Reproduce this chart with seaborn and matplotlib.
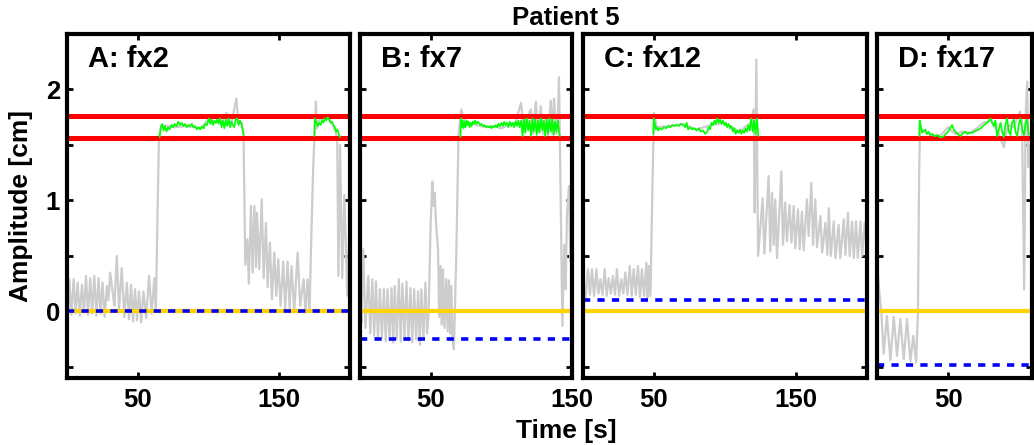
import numpy as np
import pandas as pd
import matplotlib
matplotlib.use("Agg")
import matplotlib.pyplot as plt
import seaborn as sns

# ---- data -------------------------------------------------------------
panel_titles = ["A: fx2", "B: fx7", "C: fx12", "D: fx17"]
time_span = [200, 150, 200, 109]          # seconds shown per fraction
gate_upper = 1.757                        # gating window (cm)
gate_lower = 1.56
reference_level = [0.0, 0.0, 0.0, 0.0]    # planning reference (yellow)
fraction_baseline = [0.0, -0.25, 0.10, -0.48]  # per-fraction baseline (blue)

# breathing trace, fraction 2
a_time = [0.0, 0.8, 1.6, 3.1, 4.7, 6.1, 7.5, 9.0, 10.6, 12.0, 13.4, 14.9, 16.4, 17.8,
          19.3, 20.8, 22.3, 23.7, 25.1, 26.6, 28.2, 29.3, 30.5, 32.5, 33.5, 35.2, 36.8,
          38.7, 40.5, 42.3, 43.8, 45.3, 46.7, 48.1, 49.5, 50.9, 52.4, 54.0, 56.0, 58.0,
          59.8, 61.7, 62.8, 64.0, 65.0, 67.0, 75.0, 85.0, 95.0, 100.0, 105.0, 110.0,
          112.7, 116.0, 119.7, 121.0, 123.5, 124.8, 126.0, 127.5, 128.5, 130.0, 131.2,
          132.4, 133.6, 134.3, 135.9, 137.6, 139.0, 140.6, 141.8, 143.4, 144.8, 146.5,
          147.9, 149.3, 150.9, 152.8, 154.2, 155.9, 157.3, 158.7, 160.6, 163.0, 164.8,
          167.2, 168.5, 170.0, 171.4, 172.5, 174.0, 175.9, 176.5, 178.0, 181.0, 184.0,
          187.0, 190.0, 191.0, 191.8, 193.0, 194.5, 196.0, 198.1, 199.3, 200.0]
a_amp = [0.05, -0.02, 0.29, -0.03, 0.29, -0.02, 0.26, -0.04, 0.24, -0.01, 0.32, -0.03,
         0.30, -0.02, 0.32, -0.04, 0.30, -0.02, 0.26, -0.05, 0.23, 0.10, 0.35, 0.15,
         0.05, 0.50, 0.02, 0.39, -0.05, 0.26, -0.07, 0.24, -0.09, 0.20, -0.08, 0.18,
         -0.10, 0.18, -0.06, 0.32, -0.02, 0.30, 0.00, 0.90, 1.58, 1.68, 1.66, 1.67,
         1.65, 1.74, 1.70, 1.72, 1.79, 1.68, 1.92, 1.72, 1.70, 1.55, 0.42, 0.65, 0.25,
         0.95, 0.35, 0.95, 0.40, 0.89, 0.38, 1.01, 0.30, 0.80, 0.22, 0.62, 0.11, 0.53,
         0.14, 0.47, 0.05, 0.45, 0.02, 0.45, 0.03, 0.41, 0.00, 0.53, 0.05, 0.29, -0.01,
         0.29, 0.00, 0.60, 1.30, 1.89, 1.65, 1.72, 1.74, 1.76, 1.70, 1.62, 1.50, 0.32,
         1.50, 0.30, 1.05, 0.14, 0.62, 0.55]

# breathing trace, fraction 7
b_time = [0.0, 1.0, 2.3, 3.8, 5.9, 7.3, 8.7, 10.0, 11.3, 12.7, 14.1, 15.5, 16.9, 18.2,
          19.5, 20.9, 22.3, 23.5, 24.6, 26.0, 27.5, 28.8, 30.0, 31.5, 32.9, 34.3, 35.7,
          37.0, 38.3, 39.7, 41.1, 42.3, 43.4, 44.9, 46.3, 47.5, 48.6, 50.0, 51.2, 52.0,
          52.8, 54.0, 55.2, 56.0, 57.0, 57.8, 58.7, 59.8, 61.0, 62.0, 62.9, 63.8, 64.6,
          65.5, 66.4, 68.1, 69.7, 71.6, 75.0, 80.0, 85.0, 90.0, 95.0, 100.0, 105.0,
          110.0, 113.9, 116.0, 118.0, 120.9, 122.5, 124.4, 126.0, 127.9, 129.5, 131.5,
          133.0, 135.0, 136.2, 137.3, 138.7, 140.1, 140.8, 142.0, 143.2, 144.5, 145.5,
          146.5, 147.9, 148.8, 149.5, 150.0]
b_amp = [0.10, -0.10, 0.56, -0.15, 0.32, -0.20, 0.29, -0.22, 0.27, -0.25, 0.20, -0.24,
         0.20, -0.27, 0.20, -0.26, 0.21, -0.28, 0.23, -0.25, 0.29, -0.27, 0.25, -0.24,
         0.27, -0.26, 0.21, -0.28, 0.20, -0.25, 0.18, -0.30, 0.20, -0.24, 0.26, -0.20,
         0.00, 0.80, 1.17, 0.95, 1.07, 0.75, 0.56, -0.05, 0.41, -0.12, 0.38, -0.15, 0.29,
         -0.18, 0.28, -0.20, 0.23, -0.25, -0.34, 0.50, 1.59, 1.82, 1.68, 1.69, 1.67,
         1.66, 1.67, 1.65, 1.68, 1.70, 1.88, 1.62, 1.74, 1.82, 1.60, 1.89, 1.62, 1.85,
         1.60, 1.75, 1.58, 1.90, 1.60, 1.92, 1.60, 1.80, 2.11, 1.00, -0.13, 0.60, 0.20,
         0.90, 1.13, 0.45, 1.00, 0.85]

# breathing trace, fraction 12
c_time = [0.0, 1.8, 3.5, 4.9, 6.3, 7.8, 9.4, 10.8, 12.2, 13.7, 15.3, 16.7, 18.1, 19.6,
          21.1, 22.5, 23.9, 25.4, 27.0, 28.4, 29.8, 31.3, 32.9, 34.3, 35.7, 37.2, 38.7,
          40.1, 41.5, 43.0, 44.6, 45.4, 46.2, 47.5, 49.0, 50.0, 52.0, 60.0, 70.0, 80.0,
          90.0, 100.0, 110.0, 118.0, 120.2, 120.9, 122.1, 123.3, 126.5, 127.7, 130.7,
          131.9, 133.1, 134.3, 135.4, 136.6, 139.7, 140.8, 142.4, 143.6, 145.5, 146.8,
          148.4, 149.5, 151.4, 152.6, 154.2, 155.4, 157.7, 158.9, 160.8, 162.0, 163.6,
          164.8, 167.2, 168.4, 170.7, 172.1, 173.1, 174.5, 176.6, 177.8, 180.0, 181.2,
          183.6, 184.8, 186.6, 187.8, 189.5, 190.7, 192.3, 193.5, 195.4, 196.6, 198.4,
          200.0]
c_amp = [0.30, 0.12, 0.38, 0.15, 0.38, 0.14, 0.38, 0.16, 0.29, 0.15, 0.38, 0.14, 0.30,
         0.16, 0.32, 0.15, 0.38, 0.14, 0.29, 0.16, 0.35, 0.15, 0.41, 0.14, 0.38, 0.15,
         0.41, 0.13, 0.38, 0.14, 0.44, 0.12, 0.41, 0.14, 1.20, 1.79, 1.66, 1.67, 1.69,
         1.64, 1.68, 1.70, 1.62, 1.70, 1.82, 0.89, 2.27, 0.50, 1.02, 0.52, 1.22, 0.54,
         1.07, 0.60, 1.01, 0.48, 1.26, 0.60, 0.98, 0.63, 0.96, 0.62, 0.95, 0.57, 0.92,
         0.56, 0.90, 0.55, 1.01, 0.68, 1.16, 0.60, 1.01, 0.58, 0.86, 0.53, 0.80, 0.51,
         0.93, 0.50, 0.81, 0.48, 0.78, 0.48, 0.83, 0.51, 0.89, 0.50, 0.81, 0.48, 0.81,
         0.48, 0.81, 0.50, 0.80, 0.55]

# breathing trace, fraction 17
d_time = [0.0, 1.5, 3.0, 4.7, 7.0, 9.4, 11.8, 14.1, 16.4, 18.8, 21.1, 23.5, 25.5, 27.5,
          28.8, 29.6, 30.2, 35.0, 40.0, 45.0, 50.0, 55.0, 60.0, 65.0, 70.0, 75.0, 80.0,
          85.0, 89.2, 92.0, 96.0, 100.5, 102.0, 103.5, 104.5, 105.6, 106.5, 107.5,
          108.9, 109.0]
d_amp = [0.45, 0.20, 0.00, -0.38, -0.04, -0.44, -0.05, -0.40, -0.07, -0.43, -0.07,
         -0.45, -0.22, -0.46, 0.00, 1.20, 1.65, 1.60, 1.58, 1.59, 1.66, 1.60, 1.62, 1.61,
         1.65, 1.70, 1.72, 1.62, 1.48, 1.68, 1.66, 1.80, 1.70, 0.20, 1.75, 2.07, 1.30,
         1.50, 0.71, 0.71]

# trace samples inside the gating window (beam on)
a_gate_time = [[65.5, 66.2, 67.2, 68.3, 69.2, 70.3, 71.5, 72.6, 73.8, 75.0, 76.2, 77.4,
                78.6, 79.8, 81.0, 82.2, 83.4, 84.6, 85.8, 87.0, 88.2, 89.4, 90.6, 91.8,
                93.0, 94.2, 95.4, 96.6, 97.8, 99.0, 100.2, 101.2, 102.2, 103.2, 104.2,
                105.2, 106.2, 107.2, 108.2, 109.2, 110.2, 111.2, 112.2, 113.2, 114.2,
                115.2, 116.2, 117.2, 118.2, 119.2, 120.2, 121.2, 122.2, 123.2, 124.2,
                125.0],
               [174.8, 175.1, 176.2, 177.2, 178.2, 179.2, 180.2, 181.2, 182.2, 183.2,
                184.2, 185.2, 186.2, 187.2, 188.2, 189.2, 190.2, 191.2, 192.2, 193.0]]
a_gate_amp = [[1.57, 1.66, 1.69, 1.63, 1.67, 1.62, 1.66, 1.64, 1.68, 1.66, 1.69, 1.67,
               1.71, 1.68, 1.70, 1.67, 1.69, 1.66, 1.68, 1.67, 1.69, 1.66, 1.67, 1.64,
               1.66, 1.64, 1.67, 1.65, 1.69, 1.68, 1.74, 1.69, 1.73, 1.68, 1.72, 1.70,
               1.73, 1.69, 1.74, 1.66, 1.72, 1.65, 1.73, 1.67, 1.74, 1.66, 1.71, 1.68,
               1.66, 1.73, 1.74, 1.68, 1.72, 1.69, 1.64, 1.59],
              [1.58, 1.74, 1.71, 1.67, 1.70, 1.68, 1.72, 1.70, 1.74, 1.72, 1.75, 1.73,
               1.70, 1.71, 1.68, 1.66, 1.62, 1.64, 1.59, 1.57]]

b_gate_time = [[71.1, 71.4, 72.0, 72.7, 73.3, 74.0, 74.7, 75.4, 76.1, 76.8, 77.5, 78.3,
                79.0, 79.8, 80.6, 81.5, 82.4, 83.3, 84.2, 85.1, 86.0, 87.0, 88.0, 89.0,
                90.0, 91.0, 92.0, 93.0, 94.0, 95.0, 96.0, 97.0, 98.0, 99.0, 100.0, 101.0,
                102.0, 103.0, 104.0, 105.0, 106.0, 107.0, 108.0, 109.0, 110.0, 111.0,
                112.0, 113.0, 114.0, 115.0, 116.0, 117.0, 118.0, 119.0, 120.0, 121.0,
                122.0, 123.0, 124.0, 125.0, 126.0, 127.0, 128.0, 129.0, 130.0, 131.0,
                132.0, 133.0, 134.0, 135.0, 136.0, 137.0, 138.0, 139.0, 140.0, 141.0,
                141.5]]
b_gate_amp = [[1.57, 1.74, 1.66, 1.72, 1.65, 1.71, 1.66, 1.72, 1.68, 1.71, 1.66, 1.70,
               1.67, 1.71, 1.69, 1.72, 1.69, 1.71, 1.70, 1.68, 1.69, 1.67, 1.68, 1.66,
               1.67, 1.66, 1.67, 1.65, 1.67, 1.66, 1.68, 1.66, 1.69, 1.67, 1.70, 1.67,
               1.71, 1.68, 1.70, 1.66, 1.71, 1.67, 1.70, 1.66, 1.71, 1.67, 1.72, 1.66,
               1.72, 1.58, 1.73, 1.61, 1.74, 1.63, 1.72, 1.58, 1.74, 1.62, 1.73, 1.59,
               1.72, 1.61, 1.74, 1.63, 1.72, 1.58, 1.73, 1.60, 1.74, 1.62, 1.73, 1.59,
               1.71, 1.62, 1.72, 1.60, 1.58]]

c_gate_time = [[49.5, 49.8, 50.5, 51.2, 52.0, 53.0, 54.0, 55.5, 57.0, 58.5, 60.0, 61.5,
                63.0, 64.5, 66.0, 67.5, 69.0, 70.5, 72.0, 73.0, 74.0, 75.5, 77.0, 78.5,
                80.0, 81.5, 83.0, 84.5, 86.0, 87.5, 88.5, 89.5, 90.5, 91.5, 92.5, 93.5,
                94.5, 95.5, 96.5, 97.5, 98.5, 99.5, 100.5, 101.5, 102.5, 103.5, 104.5,
                105.5, 106.5, 107.5, 108.5, 109.5, 110.5, 111.5, 112.5, 113.5, 114.5,
                115.5, 116.5, 117.5, 118.5, 119.5, 120.5, 121.5, 122.5, 123.5]]
c_gate_amp = [[1.60, 1.74, 1.70, 1.64, 1.66, 1.63, 1.65, 1.64, 1.66, 1.65, 1.67, 1.66,
               1.68, 1.67, 1.68, 1.67, 1.69, 1.68, 1.66, 1.70, 1.64, 1.66, 1.64, 1.65,
               1.63, 1.65, 1.62, 1.63, 1.60, 1.62, 1.66, 1.64, 1.70, 1.68, 1.72, 1.69,
               1.74, 1.70, 1.73, 1.69, 1.72, 1.68, 1.70, 1.66, 1.69, 1.65, 1.67, 1.62,
               1.65, 1.60, 1.63, 1.61, 1.64, 1.60, 1.63, 1.61, 1.65, 1.62, 1.68, 1.63,
               1.74, 1.62, 1.72, 1.60, 1.74, 1.58]]

d_gate_time = [[29.8, 30.0, 31.0, 31.7, 32.8, 34.0, 35.0, 36.3, 37.6, 39.0, 40.0, 41.1,
                42.5, 44.0, 45.8, 47.0, 48.2, 49.3, 50.5, 51.8, 52.8, 54.0, 55.2, 56.5,
                57.6, 58.7, 60.0, 61.0, 62.2, 63.5, 65.0, 66.9, 68.5, 70.0, 71.6, 73.0,
                74.5, 76.3, 77.5, 78.7, 79.8, 81.0, 82.2, 83.3, 84.5, 85.7, 86.9, 88.0,
                89.2, 90.3, 91.5, 92.7, 93.9, 95.0, 96.2, 97.4, 98.6, 99.8, 100.9, 102.1,
                103.3, 104.5, 105.6, 106.2, 106.8]]
d_gate_amp = [[1.58, 1.72, 1.66, 1.61, 1.63, 1.64, 1.60, 1.62, 1.59, 1.60, 1.58, 1.58,
               1.59, 1.57, 1.57, 1.58, 1.60, 1.61, 1.63, 1.66, 1.68, 1.64, 1.62, 1.60,
               1.59, 1.58, 1.60, 1.61, 1.62, 1.60, 1.61, 1.61, 1.62, 1.63, 1.64, 1.65,
               1.67, 1.69, 1.70, 1.72, 1.74, 1.70, 1.67, 1.72, 1.58, 1.64, 1.70, 1.62,
               1.57, 1.68, 1.74, 1.62, 1.59, 1.70, 1.73, 1.62, 1.58, 1.69, 1.74, 1.64,
               1.59, 1.70, 1.73, 1.64, 1.59]]

x_ticks = [50, 150]
y_ticks = [-0.5, 0.0, 0.5, 1.0, 1.5, 2.0]
y_ticklabels = ["", "0", "", "1", "", "2"]

traces = [(a_time, a_amp), (b_time, b_amp), (c_time, c_amp), (d_time, d_amp)]
gated = [(a_gate_time, a_gate_amp), (b_gate_time, b_gate_amp),
         (c_gate_time, c_gate_amp), (d_gate_time, d_gate_amp)]

# ---- style ------------------------------------------------------------
sns.set_theme(style="white")
plt.rcParams["font.family"] = ["Liberation Sans", "DejaVu Sans"]
plt.rcParams["font.weight"] = "bold"
plt.rcParams["axes.labelweight"] = "bold"

W, H = 1034, 445
fig = plt.figure(figsize=(W / 100, H / 100), dpi=100)
fig.patch.set_facecolor("white")

# axes boxes in pixels: left, width (bottom/top shared)
ax_left_px = [67, 360, 583, 877]
ax_width_px = [283, 212, 284, 155]
top_px, bottom_px = 34, 378

for i in range(4):
    ax = fig.add_axes([ax_left_px[i] / W, 1 - bottom_px / H,
                       ax_width_px[i] / W, (bottom_px - top_px) / H])
    ax.set_facecolor("white")

    t, v = traces[i]
    sns.lineplot(x=t, y=v, ax=ax, color="#cccccc", linewidth=1.6,
                 estimator=None, sort=False, zorder=2)

    for gt, gv in zip(*gated[i]):
        sns.lineplot(x=gt, y=gv, ax=ax, color="#00ff00", linewidth=1.2,
                     estimator=None, sort=False, zorder=4)

    ax.axhline(gate_upper, color="#ff0000", linewidth=3.6, zorder=3)
    ax.axhline(gate_lower, color="#ff0000", linewidth=3.6, zorder=3)
    ax.axhline(reference_level[i], color="#ffd200", linewidth=3.0, zorder=3)
    ax.axhline(fraction_baseline[i], color="#0000ff", linewidth=2.6,
               linestyle=(0, (2, 2)), zorder=3.5)

    ax.set_xlim(0, time_span[i])
    ax.set_ylim(-0.6, 2.5)
    ax.set_xticks([x for x in x_ticks if x <= time_span[i]])
    ax.set_xticklabels([str(x) for x in x_ticks if x <= time_span[i]])
    ax.set_yticks(y_ticks)
    if i == 0:
        ax.set_yticklabels(y_ticklabels)
    else:
        ax.set_yticklabels([""] * len(y_ticks))
    ax.tick_params(axis="both", direction="in", length=4, width=2, color="black",
                   top=True, right=True, bottom=True, left=True,
                   labelsize=18.5, labelcolor="black")
    ax.tick_params(axis="x", pad=7)
    ax.tick_params(axis="y", pad=5)
    for lab in ax.get_xticklabels() + ax.get_yticklabels():
        lab.set_fontweight("bold")
    for sp in ax.spines.values():
        sp.set_visible(True)
        sp.set_color("black")
        sp.set_linewidth(3)
        sp.set_zorder(6)
    ax.set_xlabel("")
    ax.set_ylabel("")
    ax.annotate(panel_titles[i], xy=(0, 1), xycoords="axes fraction",
                xytext=(15, -18), textcoords="offset points",
                ha="left", va="center", fontsize=21, fontweight="bold", color="black")

fig.text(566 / W, 1 - 18 / H, "Patient 5", ha="center", va="center",
         fontsize=18.5, fontweight="bold", color="black")
fig.text(566 / W, 1 - 431 / H, "Time [s]", ha="center", va="center",
         fontsize=19, fontweight="bold", color="black")
fig.text(21 / W, 1 - 206 / H, "Amplitude [cm]", ha="center", va="center",
         rotation=90, fontsize=19, fontweight="bold", color="black")

fig.savefig("out.png", dpi=100, facecolor="white")
